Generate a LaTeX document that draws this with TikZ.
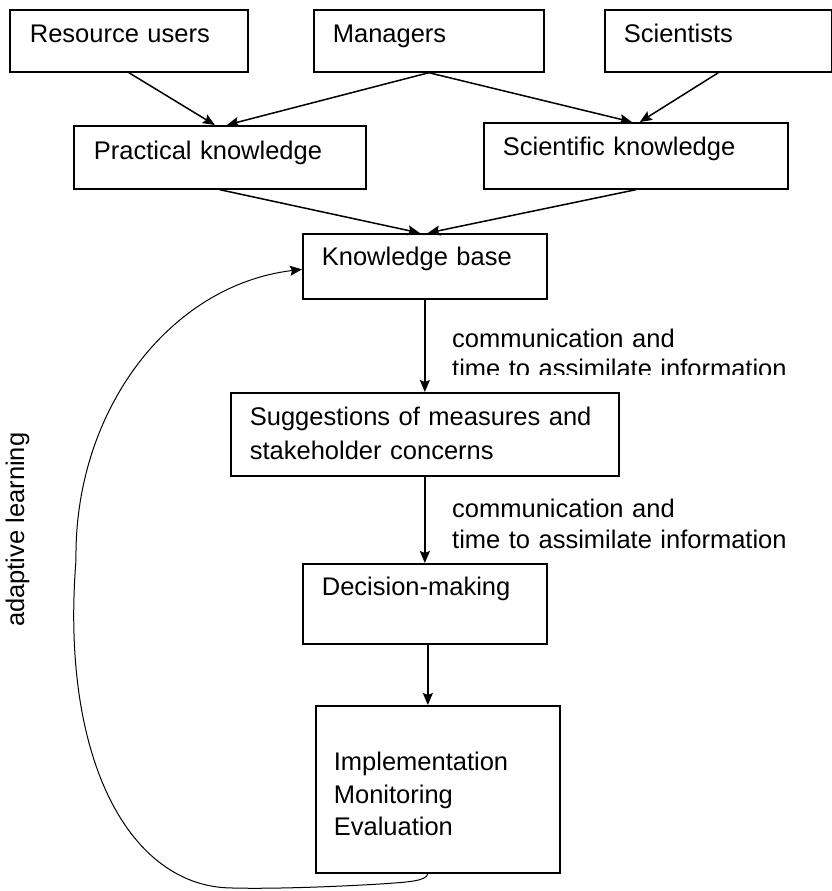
\documentclass[tikz,border=0pt]{standalone}
\usepackage{fontspec}
\setmainfont{Liberation Sans}
\usetikzlibrary{arrows.meta}

\begin{document}
\begin{tikzpicture}[x=1pt,y=-1pt, font=\fontsize{25.5}{34}\selectfont,
  panel/.style={draw,line width=1.7pt,anchor=north west,align=left,inner xsep=19pt,inner ysep=0pt},
  lbl/.style={anchor=base west,align=left,inner sep=0pt,text width=380pt},
  flow/.style={line width=1.5pt,-{Stealth[length=12pt,width=10pt,inset=2pt]}},
  loop/.style={line width=1pt,-{Stealth[length=12pt,width=10pt,inset=2pt]}}]

\useasboundingbox (0,0) rectangle (831,891);

% top row
\node[panel,inner xsep=20pt,text width=198pt,text height=33pt,text depth=29pt] (users) at (9,9) {Resource users};
\node[panel,text width=192pt,text height=33pt,text depth=29pt] (managers) at (313,9) {Managers};
\node[panel,text width=189pt,text height=33pt,text depth=29pt] (scientists) at (604,9) {Scientists};

% the two kinds of knowledge
\node[panel,inner xsep=20pt,text width=252pt,text height=34pt,text depth=29pt] (practical) at (73,125) {Practical knowledge};
\node[panel,text width=266pt,text height=33pt,text depth=33pt] (scientific) at (483,122) {Scientific knowledge};

% the main column
\node[panel,text width=206pt,text height=32pt,text depth=33pt] (kbase) at (302,233) {Knowledge base};
\node[panel,text width=350pt,text height=33pt,text depth=50pt] (suggest) at (230,392) {Suggestions of measures and\\stakeholder concerns};
\node[panel,text width=206pt,text height=32pt,text depth=48pt] (decision) at (302,563) {Decision-making};
\node[panel,inner xsep=18pt,text width=208pt,text height=65pt,text depth=102pt,font=\fontsize{25.5}{32.5}\selectfont] (implement) at (315,705) {Implementation\\Monitoring\\Evaluation};

% labels beside the arrows (the first one is cut at the bottom)
\begin{scope}
\clip (440,320) rectangle (831,374);
\node[lbl,font=\fontsize{25.5}{30}\selectfont] (comm1) at (452,347) {communication and\\time to assimilate information};
\end{scope}
\node[lbl,font=\fontsize{25.5}{31}\selectfont] (comm2) at (452,517) {communication and\\time to assimilate information};
\node[anchor=base west,inner sep=0pt,rotate=90] (adapt) at (24,627) {adaptive learning};

% arrows
\draw[flow] (users.south) -- ([xshift=-5pt]practical.north);
\draw[flow] (managers.south) -- ([xshift=7pt]practical.north);
\draw[flow] (managers.south) -- ([xshift=-4pt]scientific.north);
\draw[flow] (scientists.south) -- ([xshift=4pt]scientific.north);
\draw[flow] (practical.south) -- ([xshift=-5pt]kbase.north);
\draw[flow] (scientific.south) -- ([xshift=3pt]kbase.north);
\draw[flow] (kbase.south) -- (suggest.north);
\draw[flow] (suggest.south) -- (decision.north);
\coordinate (drop) at ([xshift=3pt]decision.south);
\draw[flow] (drop) -- (drop |- implement.north);

% the adaptive learning loop
\draw[loop] (drop |- implement.south) .. controls (426,881) and (410,882) .. (380,884) .. controls (330,887) and (270,889) .. (233,888) .. controls (130,888) and (60,760) .. (76,560) .. controls (74,410) and (170,285) .. ([yshift=-3pt]kbase.west);

\end{tikzpicture}
\end{document}
